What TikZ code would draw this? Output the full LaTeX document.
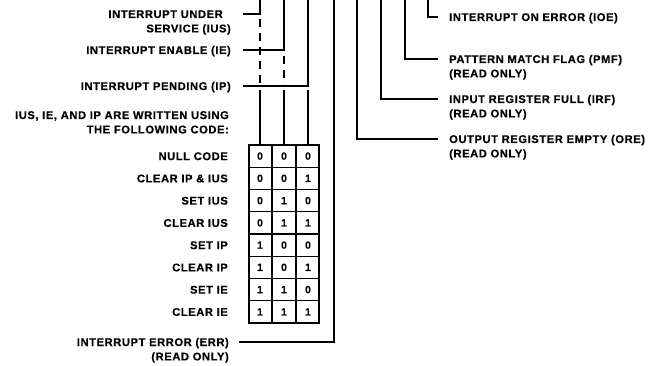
\documentclass[tikz,border=0pt]{standalone}
\usepackage{fontspec}
\setmainfont{Liberation Sans}[LetterSpace=5, BoldFeatures={FakeBold=0.4}]
\usetikzlibrary{positioning}

\begin{document}
\begin{tikzpicture}[x=1pt, y=-1pt,
    bitline/.style={line width=1.25pt},
    dashbit/.style={bitline, dash pattern=on 8pt off 6pt},
    gridline/.style={line width=1.1pt, line cap=rect},
    lbl/.style={font=\fontsize{11.2}{14}\selectfont\bfseries, inner sep=0pt, text height=8pt, text depth=0pt},
    lblL/.style={lbl, anchor=east},
    lblR/.style={lbl, anchor=west},
    digit/.style={font=\fontsize{10.5}{12}\selectfont\bfseries, inner sep=0pt}]

    % --- 定义坐标和参数 ---
    % 各位线的 x 坐标
    \def\xIUS{260}
    \def\xIE{284}
    \def\xIP{308}
    \def\xERR{334}
    \def\xORE{357}
    \def\xIRF{381}
    \def\xPMF{405}
    \def\xIOE{428}
    % 编码表
    \def\yTop{145}     % 表格上边
    \def\rowH{22.25}   % 行高
    \def\xL{249}       % 表格左边
    \def\xR{319}       % 表格右边

    \useasboundingbox (0,0) rectangle (650,366);

    % --- 位线的上端 (图的上边缘) ---
    \foreach \b/\x in {IUS/\xIUS, IE/\xIE, IP/\xIP, ERR/\xERR, ORE/\xORE, IRF/\xIRF, PMF/\xPMF, IOE/\xIOE}
        \coordinate (t\b) at (\x,0);

    % --- 左侧标签 ---
    \node[lblL] (ius) at (223,14) {INTERRUPT UNDER};
    \node[lblL, below=6pt of ius.south east, anchor=north east, xshift=8pt] (iusb) {SERVICE (IUS)};
    \node[lblL] (ie) at (231,50) {INTERRUPT ENABLE (IE)};
    \node[lblL] (ip) at (231,86) {INTERRUPT PENDING (IP)};
    \node[lblL] (note) at (229,115) {IUS, IE, AND IP ARE WRITTEN USING};
    \node[lblL, below=6pt of note.south east, anchor=north east] (noteb) {THE FOLLOWING CODE:};

    % 左侧引线
    \draw[bitline, shorten <=20pt] (ius.east) -| (tIUS);
    \draw[bitline, shorten <=12pt] (ie.east) -| (tIE);
    \draw[bitline, shorten <=12pt] (ip.east) -| (tIP);

    % IUS 和 IE 的位线继续向下 (虚线)
    \draw[dashbit] (\xIUS,19) -- (\xIUS,84);
    \draw[dashbit] (\xIE,56) -- (\xIE,84);

    % 三条位线进入编码表
    \foreach \x in {\xIUS,\xIE,\xIP}
        \draw[bitline] (\x,90) -- (\x,\yTop);

    % --- 编码表 ---
    \foreach \r in {0,...,8}
        \draw[gridline] (\xL,{\yTop+\r*\rowH}) -- (\xR,{\yTop+\r*\rowH});
    \foreach \x in {\xL,272,296,\xR}
        \draw[gridline] (\x,\yTop) -- (\x,{\yTop+8*\rowH});

    \foreach \name/\a/\b/\c [count=\r] in {NULL CODE/0/0/0, CLEAR IP \& IUS/0/0/1,
        SET IUS/0/1/0, CLEAR IUS/0/1/1, SET IP/1/0/0, CLEAR IP/1/0/1,
        SET IE/1/1/0, CLEAR IE/1/1/1} {
        \node[lblL] (code\r) at (228,{\yTop+(\r-0.5)*\rowH}) {\name};
        \node[digit] (dIUS\r) at (\xIUS,{\yTop+(\r-0.5)*\rowH}) {\a};
        \node[digit] (dIE\r) at (\xIE,{\yTop+(\r-0.5)*\rowH}) {\b};
        \node[digit] (dIP\r) at (\xIP,{\yTop+(\r-0.5)*\rowH}) {\c};
    }

    % --- ERR (只读) ---
    \node[lblL] (err) at (229,342) {INTERRUPT ERROR (ERR)};
    \node[lblL, below=6pt of err.south east, anchor=north east] (errb) {(READ ONLY)};
    \draw[bitline, shorten <=10pt] (err.east) -| (tERR);

    % --- 右侧标签 ---
    \node[lblR] (ioe) at (449,17) {INTERRUPT ON ERROR (IOE)};
    \node[lblR] (pmf) at (449,59) {PATTERN MATCH FLAG (PMF)};
    \node[lblR, below=6pt of pmf.south west, anchor=north west] (pmfb) {(READ ONLY)};
    \node[lblR] (irf) at (449,99) {INPUT REGISTER FULL (IRF)};
    \node[lblR, below=6pt of irf.south west, anchor=north west] (irfb) {(READ ONLY)};
    \node[lblR] (ore) at (449,139) {OUTPUT REGISTER EMPTY (ORE)};
    \node[lblR, below=6pt of ore.south west, anchor=north west] (oreb) {(READ ONLY)};

    % 右侧引线
    \draw[bitline, shorten <=11pt] (ioe.west) -| (tIOE);
    \draw[bitline, shorten <=11pt] (pmf.west) -| (tPMF);
    \draw[bitline, shorten <=11pt] (irf.west) -| (tIRF);
    \draw[bitline, shorten <=11pt] (ore.west) -| (tORE);

\end{tikzpicture}
\end{document}
